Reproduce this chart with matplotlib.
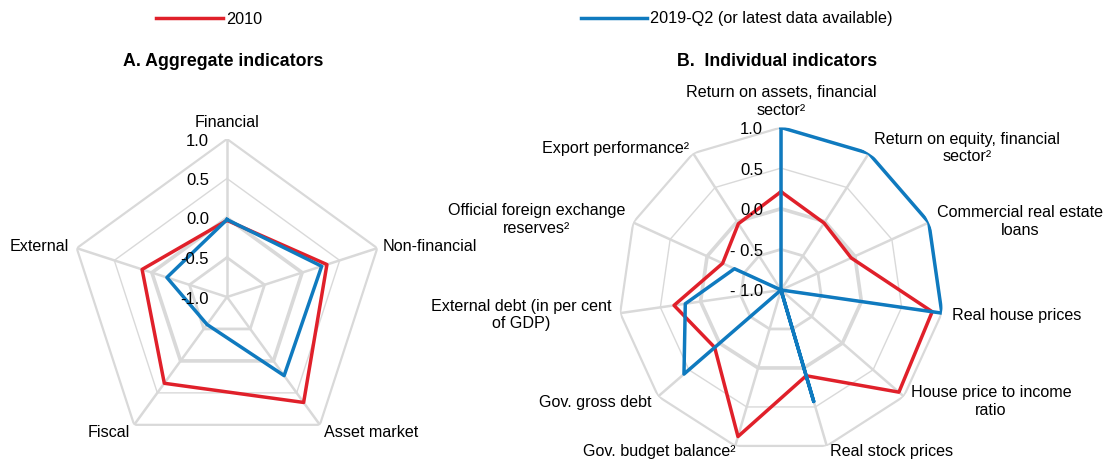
import numpy as np
import matplotlib
matplotlib.use("Agg")
import matplotlib.pyplot as plt
from matplotlib import font_manager as fm

# pick a condensed sans if present
try:
    fm.findfont("Liberation Sans Narrow", fallback_to_default=False)
    FONT = "Liberation Sans Narrow"
except Exception:
    FONT = "Liberation Sans"
plt.rcParams["font.family"] = [FONT, "DejaVu Sans"]

RED = "#e0202a"
BLUE = "#0f7abf"
GRID = "#d9d9d9"

# ---- data ----
agg_labels = ["Financial", "Non-financial", "Asset market", "Fiscal", "External"]
agg_2010 = [-0.03, 0.33, 0.65, 0.35, 0.13]
agg_2019 = [-0.02, 0.26, 0.23, -0.57, -0.20]

ind_labels = [
    "Return on assets, financial\nsector²",
    "Return on equity, financial\nsector²",
    "Commercial real estate\nloans",
    "Real house prices",
    "House price to income\nratio",
    "Real stock prices",
    "Gov. budget balance²",
    "Gov. gross debt",
    "External debt (in per cent\nof GDP)",
    "Official foreign exchange\nreserves²",
    "Export performance²",
]
ind_2010 = [0.21, -0.02, -0.05, 0.88, 0.92, 0.10, 0.88, 0.08, 0.33, -0.21, -0.03]
ind_2019 = [1.0, 1.0, 1.0, 1.0, -1.0, 0.43, -1.0, 0.58, 0.19, -0.37, -1.0]

ring_levels = [-0.5, 0.0, 0.5, 1.0]
ring_widths = [2.0, 2.6, 1.0, 1.6]

# label placement: (dx, dy) pixels from outer vertex, ha, va
agg_pos = [((0, 12), "center", "baseline"), ((5, -3), "left", "baseline"),
           ((4, -12), "left", "baseline"), ((-4, -12), "right", "baseline"),
           ((-8, -3), "right", "baseline")]
ind_pos = [((0, 10), "center", "bottom"), ((5, 5), "left", "center"),
           ((8, 1), "left", "center"), ((10, -2), "left", "center"),
           ((7, -5), "left", "center"), ((3, -6), "left", "center"),
           ((0, -6), "right", "center"), ((-7, -6), "right", "center"),
           ((-9, -2), "right", "center"), ((-8, 3), "right", "center"),
           ((-4, 5), "right", "center")]

FS = 11.6
TICK_FS = 12


def radar(ax, labels, s1, s2, pos, ticklabels, title, title_x):
    n = len(labels)
    ang = np.arange(n) * 2 * np.pi / n
    closed = np.append(ang, ang[0])
    ax.set_theta_zero_location("N")
    ax.set_theta_direction(-1)
    ax.set_ylim(-1, 1)
    ax.grid(False)
    ax.spines["polar"].set_visible(False)
    ax.set_xticks([])
    ax.set_yticks([])
    ax.patch.set_alpha(0)

    for a in ang:
        ax.plot([a, a], [-1, 1], color=GRID, lw=1.8, zorder=1)
    for lev, w in zip(ring_levels, ring_widths):
        ax.plot(closed, [lev] * (n + 1), color=GRID, lw=w, zorder=1)

    l1, = ax.plot(closed, s1 + s1[:1], color=RED, lw=2.5, zorder=3, label="2010")
    l2, = ax.plot(closed, s2 + s2[:1], color=BLUE, lw=2.5, zorder=4,
                  label="2019-Q2 (or latest data available)")

    for v, t in zip([1.0, 0.5, 0.0, -0.5, -1.0], ticklabels):
        ax.annotate(t, xy=(0, v), xytext=(-18, -2), textcoords="offset pixels",
                    ha="right", va="center", fontsize=TICK_FS, zorder=5,
                    annotation_clip=False)

    for a, lab, (off, ha, va) in zip(ang, labels, pos):
        ax.annotate(lab, xy=(a, 1), xytext=off, textcoords="offset pixels",
                    ha=ha, va=va, multialignment="center", fontsize=FS,
                    annotation_clip=False)

    ax.figure.text(title_x, 1 - 66 / 463, title, ha="center", va="baseline",
                   fontsize=12.8, fontweight="bold")
    return l1, l2


fig = plt.figure(figsize=(11.03, 4.63), dpi=100)

# left: centre (227, 297) px, R = 158
ax1 = fig.add_axes([(227 - 158) / 1103, (463 - 297 - 158) / 463, 316 / 1103, 316 / 463],
                   projection="polar")
# right: centre (781, 290) px, R = 162.5
ax2 = fig.add_axes([(781 - 162.5) / 1103, (463 - 290 - 162.5) / 463, 325 / 1103, 325 / 463],
                   projection="polar")

h1, h2 = radar(ax1, agg_labels, agg_2010, agg_2019, agg_pos,
               ["1.0", "0.5", "0.0", "-0.5", "-1.0"], "A. Aggregate indicators", 223 / 1103)
radar(ax2, ind_labels, ind_2010, ind_2019, ind_pos,
      ["1.0", "0.5", "0.0", "- 0.5", "- 1.0"], "B.  Individual indicators", 777 / 1103)

fig.legend(handles=[h1, h2], loc="center left", bbox_to_anchor=(156 / 1103, 1 - 19 / 463),
           ncol=2, frameon=False, fontsize=11.7, handlelength=4.1, handletextpad=0.2,
           columnspacing=19.6, borderpad=0, borderaxespad=0)

fig.savefig("out.png", dpi=100)
